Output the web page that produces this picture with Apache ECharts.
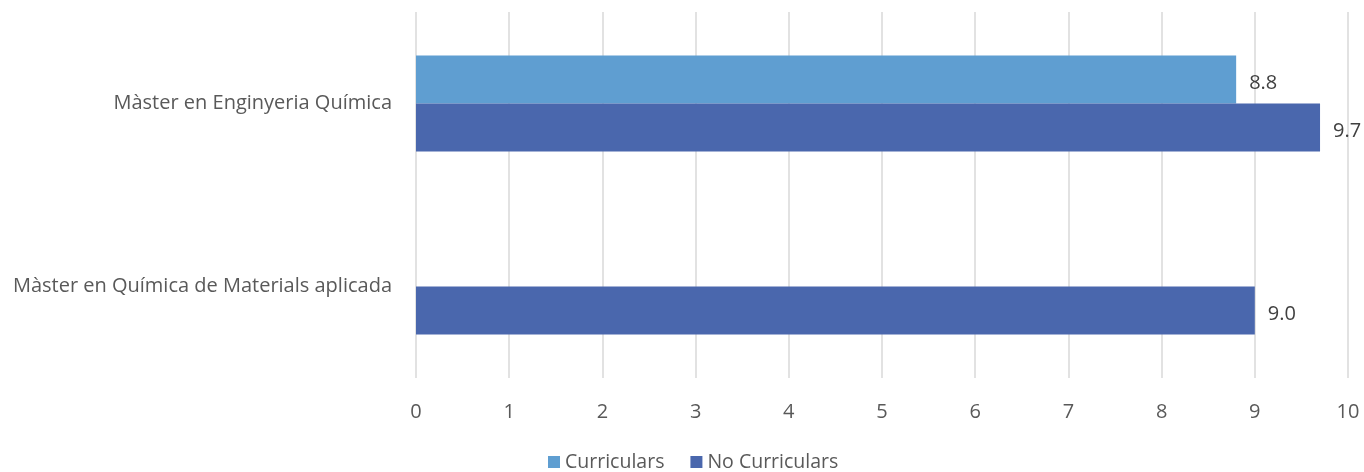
<!DOCTYPE html>
<html>
<head>
<meta charset="utf-8">
<script src="https://cdn.jsdelivr.net/npm/echarts@6/dist/echarts.min.js"></script>
<style>
html,body{margin:0;padding:0;background:#fff;}
#c{width:1364px;height:472px;}
</style>
</head>
<body>
<div id="c"></div>
<script>
const categories = ["Màster en Enginyeria Química", "Màster en Química de Materials aplicada"];
const curriculars = [8.8, null];
const noCurriculars = [9.7, 9.0];
const seriesNames = ["Curriculars", "No Curriculars"];

const font = "'Open Sans', 'Noto Sans', sans-serif";
const chart = echarts.init(document.getElementById('c'));
const labelCfg = {
  show: true, position: 'right', distance: 13,
  color: '#404040', fontSize: 20, fontFamily: font,
  offset: [0, 4],
  formatter: p => (p.value == null ? '' : Number(p.value).toFixed(1))
};
chart.setOption({
  animation: false,
  textStyle: { fontFamily: font },
  grid: { left: 416, right: 16, top: 12, bottom: 94 },
  legend: {
    bottom: 0, left: 548, padding: 0,
    itemWidth: 12, itemHeight: 12, itemGap: 26,
    icon: 'rect',
    textStyle: { color: '#595959', fontSize: 19.5, fontFamily: font },
    data: seriesNames
  },
  xAxis: {
    type: 'value', min: 0, max: 10, interval: 1,
    axisLine: { show: false }, axisTick: { show: false },
    axisLabel: { color: '#595959', fontSize: 20, margin: 24, fontFamily: font },
    splitLine: { show: true, lineStyle: { color: '#d9d9d9', width: 1.5 } }
  },
  yAxis: {
    type: 'category', data: categories, inverse: true,
    axisLine: { show: false }, axisTick: { show: false },
    axisLabel: { color: '#595959', fontSize: 20, margin: 24, fontFamily: font, padding: [6, 0, 0, 0] }
  },
  series: [
    { name: seriesNames[0], type: 'bar', data: curriculars, barWidth: 48, barGap: '0%',
      itemStyle: { color: '#5f9ed1' }, label: labelCfg },
    { name: seriesNames[1], type: 'bar', data: noCurriculars, barWidth: 48, barGap: '0%',
      itemStyle: { color: '#4a67ad' }, label: labelCfg }
  ]
});
</script>
</body>
</html>
